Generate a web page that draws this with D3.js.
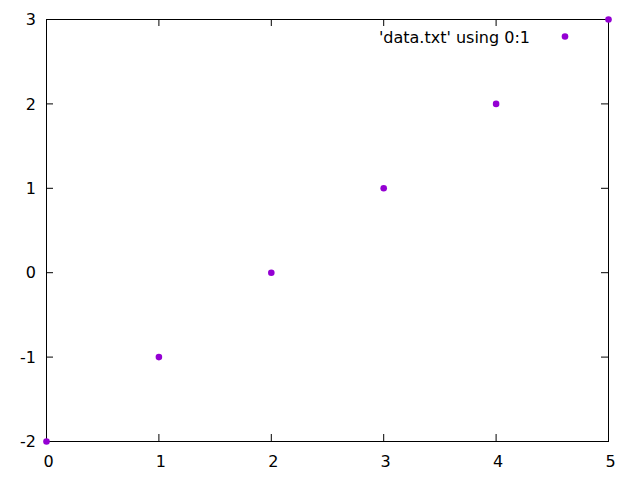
<!DOCTYPE html>
<html><head><meta charset="utf-8">
<script src="https://cdn.jsdelivr.net/npm/d3@7"></script>
<style>body{margin:0;background:#fff}svg{display:block}</style>
</head><body>
<script>
const xValues = [0, 1, 2, 3, 4, 5];
const yValues = [-2, -1, 0, 1, 2, 3];
const xTicks = [0, 1, 2, 3, 4, 5];
const yTicks = [-2, -1, 0, 1, 2, 3];
const seriesLabel = "'data.txt' using 0:1";

const W = 640, H = 480;
const L = 46, R = 608, T = 19, B = 441;
const font = "DejaVu Sans, sans-serif";
const color = "#9400d3";

const svg = d3.select("body").append("svg").attr("width", W).attr("height", H);
svg.append("rect").attr("width", W).attr("height", H).attr("fill", "#fff");

const x = d3.scaleLinear().domain([0, 5]).range([L, R]);
const y = d3.scaleLinear().domain([-2, 3]).range([B, T]);
const tl = 7;
const fmt = d => String(d);

const g = svg.append("g").attr("font-family", font).attr("font-size", 16);

function styleAxis(sel) {
  sel.select(".domain").remove();
  sel.selectAll("line").attr("stroke", "#000").attr("stroke-width", 1);
  sel.selectAll("text").attr("fill", "#000").attr("font-family", font).attr("font-size", 16);
}

// bottom axis (inward ticks)
g.append("g").attr("transform", `translate(0,${B})`)
  .call(d3.axisBottom(x).tickValues(xTicks).tickSize(-tl).tickPadding(0).tickFormat(fmt))
  .call(styleAxis)
  .selectAll("text").attr("dy", null).attr("y", 26).attr("x", 2);
// top mirror
g.append("g").attr("transform", `translate(0,${T})`)
  .call(d3.axisTop(x).tickValues(xTicks).tickSize(-tl).tickFormat(""))
  .call(styleAxis);
// left axis
g.append("g").attr("transform", `translate(${L},0)`)
  .call(d3.axisLeft(y).tickValues(yTicks).tickSize(-tl).tickPadding(10).tickFormat(fmt))
  .call(styleAxis)
  .selectAll("text").attr("x", -10).attr("dy", "0.36em");
// right mirror
g.append("g").attr("transform", `translate(${R},0)`)
  .call(d3.axisRight(y).tickValues(yTicks).tickSize(-tl).tickFormat(""))
  .call(styleAxis);

// frame
svg.append("rect").attr("x", L + 0.5).attr("y", T + 0.5).attr("width", R - L).attr("height", B - T)
  .attr("fill", "none").attr("stroke", "#000").attr("stroke-width", 1);

// points
svg.selectAll("circle.pt").data(xValues.map((d, i) => [d, yValues[i]])).enter()
  .append("circle").attr("class", "pt")
  .attr("cx", d => x(d[0]) + 0.5).attr("cy", d => y(d[1]) + 0.5).attr("r", 3.3).attr("fill", color);

// legend
svg.append("text").attr("x", 530).attr("y", 43).attr("text-anchor", "end")
  .attr("font-family", font).attr("font-size", 16).attr("fill", "#000").text(seriesLabel);
svg.append("circle").attr("cx", 565).attr("cy", 36.5).attr("r", 3.3).attr("fill", color);
</script>
</body></html>
